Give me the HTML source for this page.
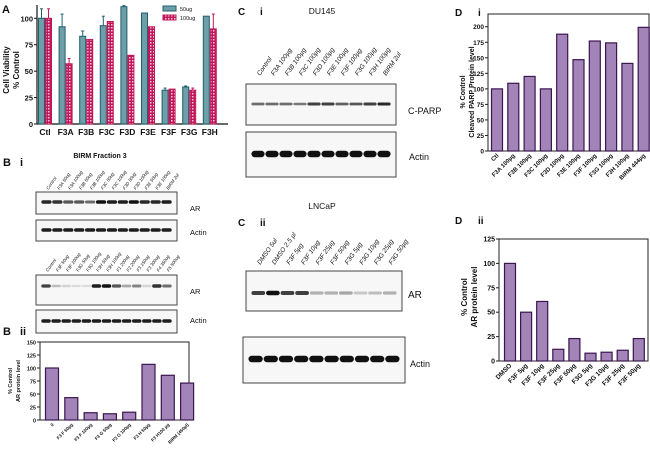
<!DOCTYPE html>
<html><head><meta charset="utf-8"><style>
body{margin:0;background:#fff}
svg{display:block;font-family:"Liberation Sans",Arial,sans-serif}
</style></head><body>
<svg id="fig" width="650" height="452" viewBox="0 0 650 452" xmlns="http://www.w3.org/2000/svg">
<defs>
<pattern id="hatch" width="3" height="3" patternUnits="userSpaceOnUse"><rect width="3" height="3" fill="#c2185b"/><rect width="1.5" height="1.5" fill="#f3c6d8"/></pattern>
</defs>
<g id="gA"></g>
<g id="gB"></g>
<g id="gBii"></g>
<g id="gC"></g>
<g id="gDi"></g>
<g id="gDii"></g>
</svg>
<script>
// Panel A data
const aCats=["Ctl","F3A","F3B","F3C","F3D","F3E","F3F","F3G","F3H"];
const a50=[100,92,83,93,111,105,32,35,102];
const a50err=[9,12,5,9,1,0,2,1,0];
const a100=[100,57,80,97,65,92,33,32,90];
const a100err=[9,5,0,0,0,0,0,2,14];
const aTicks=[0,25,50,75,100];
// Panel B ii data
const biCats=["0","F3 F 50µg","F3 F 100µg","F3 G 50µg","F3 G 100µg","F3 H 50µg","F3 H100 µg","BIRM (450µl)"];
const biVals=[100,43,14,12,15,107,86,71];
const biTicks=[0,25,50,75,100,125,150];
// Panel D i data
const diCats=["Ctl","F3A 100µg","F3B 100µg","F3C 100µg","F3D 100µg","F3E 100µg","F3F 100µg","F3G 100µg","F3H 100µg","BIRM 444µg"];
const diVals=[100,109,120,100,188,147,177,174,141,199];
const diTicks=[0,25,50,75,100,125,150,175,200];
// Panel D ii data
const diiCats=["DMSO","F3F 5µg","F3F 10µg","F3F 25µg","F3F 50µg","F3G 5µg","F3G 10µg","F3F 25µg","F3F 50µg"];
const diiVals=[100,50,61,12,23,8,9,11,23];
const diiTicks=[0,25,50,75,100,125];
// Blot lane labels
const bLanes1=["Control","F3A 50ug","F3A 100ug","F3B 50ug","F3B 100ug","F3C 50ug","F3C 100ug","F3D 50ug","F3D 100ug","F3E 50ug","F3E 100ug","BIRM 2ul"];
const bAR1=[0.9,0.85,0.7,0.7,0.6,1,0.95,0.95,1,0.9,0.9,0.95];
const bLanes2=["Control","F3F 50ug","F3F 100ug","F3G 50ug","F3G 100ug","F3H 50ug","F3H 100ug","F1 200ug","F2 200ug","F3 150ug","F3 300ug","F4 350ug","F5 500ug"];
const bAR2=[0.8,0.25,0.15,0.12,0.1,0.95,1,0.7,0.35,0.5,0.15,0.85,0.6];
const cLanes1=["Control","F3A 100µg","F3B 100µg","F3C 100µg","F3D 100µg","F3E 100µg","F3F 100µg","F3G 100µg","F3H 100µg","BIRM 2ul"];
const cParp=[0.6,0.6,0.6,0.55,0.8,0.8,0.65,0.7,0.8,0.9];
const cLanes2=["DMSO 5ul","DMSO 2.5 µl","F3F 5µg","F3F 10µg","F3F 25µg","F3F 50µg","F3G 5µg","F3G 10µg","F3G 25µg","F3G 50µg"];
const cAR=[0.8,1,0.8,0.8,0.3,0.3,0.35,0.2,0.25,0.3];

const NS="http://www.w3.org/2000/svg";
function mk(parent,tag,attrs,text){const e=document.createElementNS(NS,tag);for(const k in attrs)e.setAttribute(k,attrs[k]);if(text!==undefined)e.textContent=text;parent.appendChild(e);return e;}
function txt(parent,x,y,s,size,opts){opts=opts||{};const e=mk(parent,"text",{x:x,y:y,"font-size":size,"text-anchor":opts.anchor||"start","font-weight":opts.bold?"bold":"normal","font-style":opts.italic?"italic":"normal",fill:"#111"},s);if(opts.rot!==undefined)e.setAttribute("transform","rotate("+opts.rot+" "+x+" "+y+")");return e;}

// ---------- Panel A ----------
(function(){
const g=document.getElementById("gA");
const x0=37,x1=228,y0=124,yTop=5,k=1.057,step=20.6,c0=45;
const ys=v=>y0-v*k;
let t=txt(g,2,13,"A",11,{bold:true});
mk(g,"line",{x1:x0,y1:yTop,x2:x0,y2:y0,stroke:"#111","stroke-width":1.2});
mk(g,"line",{x1:x0,y1:y0,x2:x1,y2:y0,stroke:"#111","stroke-width":1.2});
aTicks.forEach(v=>{mk(g,"line",{x1:x0-3,y1:ys(v),x2:x0,y2:ys(v),stroke:"#111"});const l=txt(g,x0-4,ys(v)+3,String(v),7.5,{anchor:"end",bold:true});});
aCats.forEach((c,i)=>{const cx=c0+i*step;
 const b1=mk(g,"rect",{x:cx-6.5,y:ys(a50[i]),width:6,height:a50[i]*k,fill:"#6e9ea8",stroke:"#1f5f6e","stroke-width":1});
 
 if(a50err[i]>0){mk(g,"line",{x1:cx-3.5,y1:ys(a50[i]),x2:cx-3.5,y2:ys(a50[i]+a50err[i]),stroke:"#1f5f6e"});mk(g,"line",{x1:cx-5,y1:ys(a50[i]+a50err[i]),x2:cx-2,y2:ys(a50[i]+a50err[i]),stroke:"#1f5f6e"});}
 const b2=mk(g,"rect",{x:cx+0.5,y:ys(a100[i]),width:6,height:a100[i]*k,fill:"url(#hatch)",stroke:"#c2185b","stroke-width":1});
 
 if(a100err[i]>0){mk(g,"line",{x1:cx+3.5,y1:ys(a100[i]),x2:cx+3.5,y2:ys(a100[i]+a100err[i]),stroke:"#c2185b"});mk(g,"line",{x1:cx+2,y1:ys(a100[i]+a100err[i]),x2:cx+5,y2:ys(a100[i]+a100err[i]),stroke:"#c2185b"});}
 const l=txt(g,cx,y0+11,c,8.5,{anchor:"middle",bold:true});
});
const yl=txt(g,9,70,"Cell Viability",8,{anchor:"middle",bold:true,rot:-90});
txt(g,19,70,"% Control",8,{anchor:"middle",bold:true,rot:-90});
const lg=mk(g,"g",{});
mk(lg,"rect",{x:163,y:6,width:13,height:5,fill:"#6e9ea8",stroke:"#1f5f6e"});txt(lg,180,11,"50ug",5.5);
mk(lg,"rect",{x:163,y:15,width:13,height:5,fill:"url(#hatch)",stroke:"#c2185b"});txt(lg,180,20,"100ug",5.5);
})();

// ---------- Blots ----------
function blot(g,x,y,w,h,n,inten,bandY,bh,name){
 const b=mk(g,"g",{});
 mk(b,"rect",{x:x,y:y,width:w,height:h,fill:"#f7f7f7",stroke:"#444","stroke-width":1});
 const lw=(w-10)/n;
 for(let i=0;i<n;i++){const cx=x+5+lw*(i+0.5);const a=inten[i];const hh=bh*(0.6+0.4*a)*2;
  mk(b,"rect",{x:cx-lw*0.47,y:y+bandY-hh/2,width:lw*0.94,height:hh,rx:hh/2,fill:"#111","fill-opacity":Math.max(0.12,a)});}
}
function laneLabels(g,x,w,n,labels,y,size,name){
 const lw=(w-10)/n;labels.forEach((s,i)=>{const l=txt(g,x+5+lw*(i+0.5)+2,y,s,size,{italic:true,rot:-55});});
}
(function(){
const g=document.getElementById("gB");
let t=txt(g,3,166,"B",11,{bold:true});
txt(g,20,166,"i",11,{bold:true});
t=txt(g,100,158,"BIRM Fraction 3",7,{anchor:"middle",bold:true});
laneLabels(g,36,141,12,bLanes1,190,4.5,'b-lane-label-a');
blot(g,36,192,141,22,12,bAR1,10,1.8,'blot-b-ar-1');
blot(g,36,220,141,21,12,bAR1.map(()=>0.95),10,1.8,'blot-b-actin-1');
laneLabels(g,36,141,13,bLanes2,272,4.5,'b-lane-label-b');
blot(g,36,275,141,30,13,bAR2,11,1.8,'blot-b-ar-2');
blot(g,36,310,141,23,13,bAR2.map(()=>0.95),11,1.8,'blot-b-actin-2');
[["AR",190,211],["Actin",190,235],["AR",190,294],["Actin",190,323]].forEach((a,i)=>{const l=txt(g,a[1],a[2],a[0],7.5);});
t=txt(g,3,335,"B",11,{bold:true});txt(g,20,335,"ii",11,{bold:true});
})();
(function(){
const g=document.getElementById("gC");
let t=txt(g,238,15,"C",10,{bold:true});
txt(g,260,15,"i",10,{bold:true});
t=txt(g,322,14,"DU145",8.5,{anchor:"middle"});
laneLabels(g,246,150,10,cLanes1,76,6.5,'c-lane-label-a');
blot(g,246,84,150,41,10,cParp,20,1.6,'blot-c-parp');
blot(g,246,132,150,45,10,cParp.map(()=>1),22,3.2,'blot-c-actin-1');
t=txt(g,322,209,"LNCaP",8.5,{anchor:"middle"});
txt(g,238,226,"C",10,{bold:true});txt(g,260,226,"ii",10,{bold:true});
laneLabels(g,246,156,10,cLanes2,265,6.5,'c-lane-label-b');
blot(g,246,271,156,40,10,cAR,22,2.2,'blot-c-ar');
blot(g,243,337,162,46,10,cAR.map(()=>1),22,3.2,'blot-c-actin-2');
[["C-PARP",408,114,9],["Actin",409,160,9],["AR",408,298,10],["Actin",410,367,9]].forEach((a,i)=>{const l=txt(g,a[1],a[2],a[0],a[3]);});
})();

// ---------- Bar charts (purple) ----------
function purpleChart(g,opt){
 const {x0,x1,y0,yTop,vmax,cats,vals,ticks,c0,step,bw,fs,lfs,frame,pfx}=opt;
 const ys=v=>y0-(v/vmax)*(y0-yTop);
 if(frame)mk(g,"rect",{x:x0,y:yTop,width:x1-x0,height:y0-yTop,fill:"none",stroke:"#222","stroke-width":1});
 ticks.forEach(v=>{mk(g,"line",{x1:x0-3,y1:ys(v),x2:x0,y2:ys(v),stroke:"#222"});const l=txt(g,x0-4,ys(v)+2.5,String(v),fs,{anchor:"end",bold:true});});
 cats.forEach((c,i)=>{const cx=c0+i*step;
  const r=mk(g,"rect",{x:cx-bw/2,y:ys(vals[i]),width:bw,height:y0-ys(vals[i]),fill:"#a284b8",stroke:"#3b1650","stroke-width":1.2});
  
  const l=txt(g,cx+2,y0+5,c,lfs,{anchor:"end",bold:true,rot:-45});
 });
}
purpleChart(document.getElementById("gBii"),{x0:40,x1:189,y0:420,yTop:342,vmax:150,cats:biCats,vals:biVals,ticks:biTicks,c0:52,step:19.3,bw:13,fs:5.5,lfs:4.5,frame:true,pfx:'bii'});
(function(){const g=document.getElementById("gBii");txt(g,12,381,"% Control",5.5,{anchor:"middle",bold:true,rot:-90});const l=txt(g,20,381,"AR protein level",5.5,{anchor:"middle",bold:true,rot:-90});})();
purpleChart(document.getElementById("gDi"),{x0:488,x1:649,y0:151,yTop:14,vmax:220.5,cats:diCats,vals:diVals,ticks:diTicks,c0:497,step:16.3,bw:11,fs:6.5,lfs:6,frame:true,pfx:'di'});
(function(){const g=document.getElementById("gDi");let t=txt(g,455,16,"D",10,{bold:true});txt(g,478,16,"i",10,{bold:true});
txt(g,465,92,"% Control",7,{anchor:"middle",bold:true,rot:-90});const l=txt(g,474,92,"Cleaved PARP Protein level",7,{anchor:"middle",bold:true,rot:-90});
txt(g,455,224,"D",10,{bold:true});txt(g,478,224,"ii",10,{bold:true});})();
purpleChart(document.getElementById("gDii"),{x0:499,x1:648,y0:361,yTop:239,vmax:125,cats:diiCats,vals:diiVals,ticks:diiTicks,c0:510,step:16.1,bw:11,fs:7,lfs:6.5,frame:true,pfx:'dii'});
(function(){const g=document.getElementById("gDii");txt(g,467,297,"% Control",8,{anchor:"middle",bold:true,rot:-90});const l=txt(g,477,297,"AR protein level",8,{anchor:"middle",bold:true,rot:-90});})();
</script>
</body></html>
